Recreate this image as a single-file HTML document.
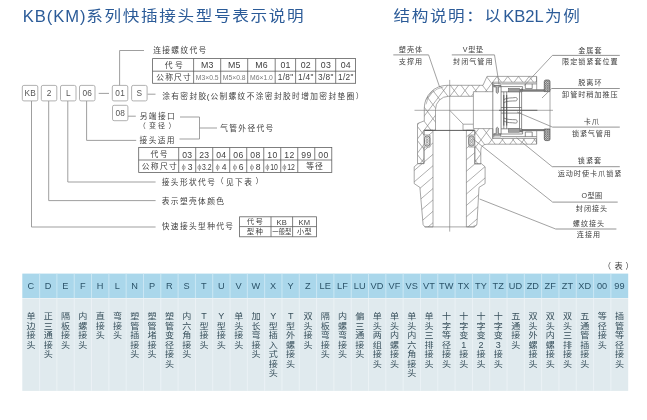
<!DOCTYPE html>
<html lang="zh-CN"><head><meta charset="utf-8"><title>KB(KM)系列快插接头型号表示说明</title>
<style>
html,body{margin:0;padding:0;background:#fff;}
body{width:647px;height:420px;overflow:hidden;}
svg{display:block;font-family:'Liberation Sans','Noto Sans CJK SC',sans-serif;will-change:transform;}
text{white-space:pre;}
</style></head><body>
<svg width="647" height="420" viewBox="0 0 647 420">
<rect x="0" y="0" width="647" height="420" fill="#ffffff"/>
<text x="22.80" y="21.80" font-size="16.6" fill="#2b5b98" letter-spacing="0.95">KB(KM)</text>
<text transform="translate(86.30 21.30) scale(1.115 1)" font-size="14.9" fill="#2b5b98" letter-spacing="1.480">系列快插接头型号表示说明</text>
<text transform="translate(393.50 21.30) scale(1.115 1)" font-size="14.9" fill="#2b5b98" letter-spacing="1.435">结构说明：以</text>
<text x="503.20" y="21.80" font-size="16.6" fill="#2b5b98">KB2L</text>
<text transform="translate(545.00 21.30) scale(1.115 1)" font-size="14.9" fill="#2b5b98" letter-spacing="1.525">为例</text>
<rect x="22.3" y="85.4" width="15.5" height="15.5" stroke="#a8a8a8" stroke-width="0.9" fill="none" rx="1.6"/>
<text x="30.15" y="96.19" font-size="8.3" fill="#555" letter-spacing="0.2" text-anchor="middle">KB</text>
<rect x="41.3" y="85.4" width="15.5" height="15.5" stroke="#a8a8a8" stroke-width="0.9" fill="none" rx="1.6"/>
<text x="49.15" y="96.19" font-size="8.3" fill="#555" letter-spacing="0.2" text-anchor="middle">2</text>
<rect x="60.5" y="85.4" width="15.5" height="15.5" stroke="#a8a8a8" stroke-width="0.9" fill="none" rx="1.6"/>
<text x="68.35" y="96.19" font-size="8.3" fill="#555" letter-spacing="0.2" text-anchor="middle">L</text>
<rect x="79.5" y="85.4" width="15.5" height="15.5" stroke="#a8a8a8" stroke-width="0.9" fill="none" rx="1.6"/>
<text x="87.35" y="96.19" font-size="8.3" fill="#555" letter-spacing="0.2" text-anchor="middle">06</text>
<rect x="112.3" y="85.4" width="15.5" height="15.5" stroke="#a8a8a8" stroke-width="0.9" fill="none" rx="1.6"/>
<text x="120.15" y="96.19" font-size="8.3" fill="#555" letter-spacing="0.2" text-anchor="middle">01</text>
<rect x="131.6" y="85.4" width="15.5" height="15.5" stroke="#a8a8a8" stroke-width="0.9" fill="none" rx="1.6"/>
<text x="139.45" y="96.19" font-size="8.3" fill="#555" letter-spacing="0.2" text-anchor="middle">S</text>
<rect x="112.5" y="105.3" width="15.4" height="15.4" stroke="#a8a8a8" stroke-width="0.9" fill="none" rx="1.6"/>
<text x="120.30" y="116.29" font-size="8.3" fill="#555" letter-spacing="0.2" text-anchor="middle">08</text>
<line x1="98.7" y1="93.4" x2="109" y2="93.4" stroke="#949494" stroke-width="0.9"/>
<line x1="147.5" y1="94.2" x2="155.5" y2="94.2" stroke="#949494" stroke-width="0.9"/>
<path d="M119.6 85.4 V50.5 H144" stroke="#949494" stroke-width="0.9" fill="none"/>
<line x1="128" y1="116.2" x2="135.8" y2="116.2" stroke="#949494" stroke-width="0.9"/>
<path d="M31.5 101 V227 H155.6" stroke="#949494" stroke-width="0.9" fill="none"/>
<path d="M48.7 101 V200.6 H155.6" stroke="#949494" stroke-width="0.9" fill="none"/>
<path d="M67.8 101 V182 H155.6" stroke="#949494" stroke-width="0.9" fill="none"/>
<path d="M86.6 101 V140.4 H136.2" stroke="#949494" stroke-width="0.9" fill="none"/>
<path d="M180 117 H199.5 V139 H179.5" stroke="#949494" stroke-width="0.9" fill="none"/>
<line x1="199.5" y1="128" x2="217" y2="128" stroke="#949494" stroke-width="0.9"/>
<text x="153.20" y="53.37" font-size="7.7" fill="#404040" letter-spacing="1.39">连接螺纹代号</text>
<text x="162.20" y="99.27" font-size="7.7" fill="#404040" letter-spacing="1.39">涂有密封胶</text>
<text x="206.80" y="99.34" font-size="7.9" fill="#404040">(</text>
<text x="210.40" y="99.27" font-size="7.7" fill="#404040" letter-spacing="1.39">公制螺纹不涂密封胶时增加密封垫圈）</text>
<text x="139.80" y="119.47" font-size="7.7" fill="#404040" letter-spacing="1.39">另端接口</text>
<text x="138.70" y="127.52" font-size="7.0" fill="#404040">（</text>
<text x="149.10" y="127.52" font-size="7.0" fill="#404040" letter-spacing="1.9">变径</text>
<text x="168.50" y="127.52" font-size="7.0" fill="#404040">）</text>
<text x="139.60" y="142.57" font-size="7.7" fill="#404040" letter-spacing="1.39">接头适用</text>
<text x="220.20" y="131.07" font-size="7.7" fill="#404040" letter-spacing="1.39">气管外径代号</text>
<text x="161.80" y="184.57" font-size="7.7" fill="#404040" letter-spacing="1.39">接头形状代号</text>
<text x="216.00" y="184.47" font-size="7.7" fill="#404040">（</text>
<text x="226.00" y="184.57" font-size="7.7" fill="#404040" letter-spacing="1.39">见下表</text>
<text x="255.40" y="184.47" font-size="7.7" fill="#404040">）</text>
<text x="161.80" y="203.77" font-size="7.7" fill="#404040" letter-spacing="1.39">表示塑壳体颜色</text>
<text x="161.80" y="229.07" font-size="7.7" fill="#404040" letter-spacing="1.39">快速接头型种代号</text>
<rect x="152.6" y="58.6" width="203.00000000000003" height="24.699999999999996" stroke="#606060" stroke-width="0.8" fill="none"/>
<line x1="152.6" y1="71.2" x2="355.6" y2="71.2" stroke="#606060" stroke-width="0.8"/>
<line x1="193.6" y1="58.6" x2="193.6" y2="83.3" stroke="#606060" stroke-width="0.8"/>
<line x1="220.7" y1="58.6" x2="220.7" y2="83.3" stroke="#606060" stroke-width="0.8"/>
<line x1="247.7" y1="58.6" x2="247.7" y2="83.3" stroke="#606060" stroke-width="0.8"/>
<line x1="275.2" y1="58.6" x2="275.2" y2="83.3" stroke="#606060" stroke-width="0.8"/>
<line x1="295.6" y1="58.6" x2="295.6" y2="83.3" stroke="#606060" stroke-width="0.8"/>
<line x1="315.7" y1="58.6" x2="315.7" y2="83.3" stroke="#606060" stroke-width="0.8"/>
<line x1="335.7" y1="58.6" x2="335.7" y2="83.3" stroke="#606060" stroke-width="0.8"/>
<text x="164.80" y="67.81" font-size="7.8" fill="#404040" letter-spacing="2.4">代号</text>
<text x="156.20" y="80.11" font-size="7.8" fill="#404040" letter-spacing="1.15">公称尺寸</text>
<text x="207.35" y="68.37" font-size="8.8" fill="#404040" letter-spacing="0.3" text-anchor="middle">M3</text>
<text transform="translate(207.15 80.21) scale(0.87 1)" font-size="7.8" fill="#7a7a7a" text-anchor="middle">M3×0.5</text>
<text x="234.40" y="68.37" font-size="8.8" fill="#404040" letter-spacing="0.3" text-anchor="middle">M5</text>
<text transform="translate(234.20 80.21) scale(0.87 1)" font-size="7.8" fill="#7a7a7a" text-anchor="middle">M5×0.8</text>
<text x="261.65" y="68.37" font-size="8.8" fill="#404040" letter-spacing="0.3" text-anchor="middle">M6</text>
<text transform="translate(261.45 80.21) scale(0.87 1)" font-size="7.8" fill="#7a7a7a" text-anchor="middle">M6×1.0</text>
<text x="285.60" y="68.37" font-size="8.8" fill="#404040" letter-spacing="0.3" text-anchor="middle">01</text>
<text x="285.60" y="80.19" font-size="8.3" fill="#404040" letter-spacing="0.3" text-anchor="middle">1/8"</text>
<text x="305.85" y="68.37" font-size="8.8" fill="#404040" letter-spacing="0.3" text-anchor="middle">02</text>
<text x="305.85" y="80.19" font-size="8.3" fill="#404040" letter-spacing="0.3" text-anchor="middle">1/4"</text>
<text x="325.90" y="68.37" font-size="8.8" fill="#404040" letter-spacing="0.3" text-anchor="middle">03</text>
<text x="325.90" y="80.19" font-size="8.3" fill="#404040" letter-spacing="0.3" text-anchor="middle">3/8"</text>
<text x="345.85" y="68.37" font-size="8.8" fill="#404040" letter-spacing="0.3" text-anchor="middle">04</text>
<text x="345.85" y="80.19" font-size="8.3" fill="#404040" letter-spacing="0.3" text-anchor="middle">1/2"</text>
<rect x="138.7" y="147.5" width="193.08999999999997" height="24.900000000000006" stroke="#606060" stroke-width="0.8" fill="none"/>
<line x1="138.7" y1="160" x2="331.78999999999996" y2="160" stroke="#606060" stroke-width="0.8"/>
<line x1="178.7" y1="147.5" x2="178.7" y2="172.4" stroke="#606060" stroke-width="0.8"/>
<line x1="195.70999999999998" y1="147.5" x2="195.70999999999998" y2="172.4" stroke="#606060" stroke-width="0.8"/>
<line x1="212.72" y1="147.5" x2="212.72" y2="172.4" stroke="#606060" stroke-width="0.8"/>
<line x1="229.73" y1="147.5" x2="229.73" y2="172.4" stroke="#606060" stroke-width="0.8"/>
<line x1="246.74" y1="147.5" x2="246.74" y2="172.4" stroke="#606060" stroke-width="0.8"/>
<line x1="263.75" y1="147.5" x2="263.75" y2="172.4" stroke="#606060" stroke-width="0.8"/>
<line x1="280.76" y1="147.5" x2="280.76" y2="172.4" stroke="#606060" stroke-width="0.8"/>
<line x1="297.77" y1="147.5" x2="297.77" y2="172.4" stroke="#606060" stroke-width="0.8"/>
<line x1="314.78" y1="147.5" x2="314.78" y2="160" stroke="#606060" stroke-width="0.8"/>
<text x="150.60" y="156.81" font-size="7.8" fill="#404040" letter-spacing="1.3">代号</text>
<text x="141.80" y="169.11" font-size="7.8" fill="#404040" letter-spacing="1.25">公称尺寸</text>
<text x="187.35" y="157.50" font-size="8.6" fill="#404040" letter-spacing="0.3" text-anchor="middle">03</text>
<text x="204.36" y="157.50" font-size="8.6" fill="#404040" letter-spacing="0.3" text-anchor="middle">23</text>
<text x="221.38" y="157.50" font-size="8.6" fill="#404040" letter-spacing="0.3" text-anchor="middle">04</text>
<text x="238.39" y="157.50" font-size="8.6" fill="#404040" letter-spacing="0.3" text-anchor="middle">06</text>
<text x="255.40" y="157.50" font-size="8.6" fill="#404040" letter-spacing="0.3" text-anchor="middle">08</text>
<text x="272.40" y="157.50" font-size="8.6" fill="#404040" letter-spacing="0.3" text-anchor="middle">10</text>
<text x="289.41" y="157.50" font-size="8.6" fill="#404040" letter-spacing="0.3" text-anchor="middle">12</text>
<text x="306.42" y="157.50" font-size="8.6" fill="#404040" letter-spacing="0.3" text-anchor="middle">99</text>
<text x="323.43" y="157.50" font-size="8.6" fill="#404040" letter-spacing="0.3" text-anchor="middle">00</text>
<text x="181.60" y="169.24" font-size="7.6" fill="#808080">ϕ</text>
<text x="187.70" y="169.60" font-size="8.6" fill="#404040">3</text>
<text x="197.31" y="169.24" font-size="7.6" fill="#808080">ϕ</text>
<text transform="translate(202.11 169.60) scale(0.8 1)" font-size="8.6" fill="#404040" text-anchor="start">3.2</text>
<text x="215.62" y="169.24" font-size="7.6" fill="#808080">ϕ</text>
<text x="221.72" y="169.60" font-size="8.6" fill="#404040">4</text>
<text x="232.63" y="169.24" font-size="7.6" fill="#808080">ϕ</text>
<text x="238.73" y="169.60" font-size="8.6" fill="#404040">6</text>
<text x="249.64" y="169.24" font-size="7.6" fill="#808080">ϕ</text>
<text x="255.74" y="169.60" font-size="8.6" fill="#404040">8</text>
<text x="265.35" y="169.24" font-size="7.6" fill="#808080">ϕ</text>
<text transform="translate(270.15 169.60) scale(0.8 1)" font-size="8.6" fill="#404040" text-anchor="start">10</text>
<text x="282.36" y="169.24" font-size="7.6" fill="#808080">ϕ</text>
<text transform="translate(287.16 169.60) scale(0.8 1)" font-size="8.6" fill="#404040" text-anchor="start">12</text>
<text x="306.30" y="169.11" font-size="7.8" fill="#404040" letter-spacing="1.0">等径</text>
<rect x="239.6" y="216.8" width="76.79999999999998" height="20.0" stroke="#606060" stroke-width="0.8" fill="none"/>
<line x1="239.6" y1="226.6" x2="316.4" y2="226.6" stroke="#606060" stroke-width="0.8"/>
<line x1="271" y1="216.8" x2="271" y2="236.8" stroke="#606060" stroke-width="0.8"/>
<line x1="292.6" y1="216.8" x2="292.6" y2="236.8" stroke="#606060" stroke-width="0.8"/>
<text x="246.80" y="224.36" font-size="7.4" fill="#404040" letter-spacing="1.2">代号</text>
<text x="246.80" y="234.46" font-size="7.4" fill="#404040" letter-spacing="1.2">型种</text>
<text x="281.80" y="224.54" font-size="7.6" fill="#404040" letter-spacing="0.3" text-anchor="middle">KB</text>
<text x="304.50" y="224.54" font-size="7.6" fill="#404040" letter-spacing="0.3" text-anchor="middle">KM</text>
<text transform="translate(281.80 234.39) scale(0.88 1)" font-size="7.2" fill="#404040" text-anchor="middle">一般型</text>
<text x="304.50" y="234.39" font-size="7.2" fill="#404040" letter-spacing="0.2" text-anchor="middle">小型</text>
<line x1="414.5" y1="110.3" x2="553" y2="110.3" stroke="#8a8a8a" stroke-width="0.7"/>
<line x1="449.7" y1="79.9" x2="449.7" y2="231.6" stroke="#8a8a8a" stroke-width="0.7"/>
<defs><clipPath id="cpl"><path d="M536.5 76.4 L487 76.4 L483 85.3 L447 85.3 A22.7 22.7 0 0 0 424.3 108 L424.3 120.8 L417.5 123.6 L417.5 163.6 L424 163.6 L424 130.2 L435.5 130.2 L435.5 109.4 A13.1 13.1 0 0 1 448.6 96.3 L473.4 96.3 L473.4 91.7 L492.8 91.7 L492.8 82.2 L536.5 82.2 Z M536.5 144.2 L487 144.2 Q481 144.4 480.8 150.2 L480.8 164 L474.8 164 L474.8 130.2 L473.4 130.2 L473.4 128.6 L492.8 128.6 L492.8 138.5 L536.5 138.5 Z"/></clipPath>
<clipPath id="cbr"><path d="M414.2 166.8 L418 163.6 L424 163.6 L424 147 L430 147 L430 135 L424 135 L424 130.2 L433 130.2 L433 226.9 L424.8 226.9 L423.1 224.6 L419.9 187.4 L414.2 183.6 Z M485.1 166.8 L481.3 163.6 L474.8 163.6 L474.8 147 L468.8 147 L468.8 135 L474.8 135 L474.8 130.2 L466.4 130.2 L466.4 226.9 L474.2 226.9 L476.9 224.6 L479 187.4 L485.1 183.6 Z"/></clipPath></defs>
<path d="M-4.0 60 L-148.4 250 M-50.4 60 L94.0 250 M6.7 60 L-137.7 250 M-39.7 60 L104.7 250 M17.4 60 L-127.0 250 M-29.0 60 L115.4 250 M28.1 60 L-116.3 250 M-18.3 60 L126.1 250 M38.8 60 L-105.6 250 M-7.6 60 L136.8 250 M49.5 60 L-94.9 250 M3.1 60 L147.5 250 M60.2 60 L-84.2 250 M13.8 60 L158.2 250 M70.9 60 L-73.5 250 M24.5 60 L168.9 250 M81.6 60 L-62.8 250 M35.2 60 L179.6 250 M92.3 60 L-52.1 250 M45.9 60 L190.3 250 M103.0 60 L-41.4 250 M56.6 60 L201.0 250 M113.7 60 L-30.7 250 M67.3 60 L211.7 250 M124.4 60 L-20.0 250 M78.0 60 L222.4 250 M135.1 60 L-9.3 250 M88.7 60 L233.1 250 M145.8 60 L1.4 250 M99.4 60 L243.8 250 M156.5 60 L12.1 250 M110.1 60 L254.5 250 M167.2 60 L22.8 250 M120.8 60 L265.2 250 M177.9 60 L33.5 250 M131.5 60 L275.9 250 M188.6 60 L44.2 250 M142.2 60 L286.6 250 M199.3 60 L54.9 250 M152.9 60 L297.3 250 M210.0 60 L65.6 250 M163.6 60 L308.0 250 M220.7 60 L76.3 250 M174.3 60 L318.7 250 M231.4 60 L87.0 250 M185.0 60 L329.4 250 M242.1 60 L97.7 250 M195.7 60 L340.1 250 M252.8 60 L108.4 250 M206.4 60 L350.8 250 M263.5 60 L119.1 250 M217.1 60 L361.5 250 M274.2 60 L129.8 250 M227.8 60 L372.2 250 M284.9 60 L140.5 250 M238.5 60 L382.9 250 M295.6 60 L151.2 250 M249.2 60 L393.6 250 M306.3 60 L161.9 250 M259.9 60 L404.3 250 M317.0 60 L172.6 250 M270.6 60 L415.0 250 M327.7 60 L183.3 250 M281.3 60 L425.7 250 M338.4 60 L194.0 250 M292.0 60 L436.4 250 M349.1 60 L204.7 250 M302.7 60 L447.1 250 M359.8 60 L215.4 250 M313.4 60 L457.8 250 M370.5 60 L226.1 250 M324.1 60 L468.5 250 M381.2 60 L236.8 250 M334.8 60 L479.2 250 M391.9 60 L247.5 250 M345.5 60 L489.9 250 M402.6 60 L258.2 250 M356.2 60 L500.6 250 M413.3 60 L268.9 250 M366.9 60 L511.3 250 M424.0 60 L279.6 250 M377.6 60 L522.0 250 M434.7 60 L290.3 250 M388.3 60 L532.7 250 M445.4 60 L301.0 250 M399.0 60 L543.4 250 M456.1 60 L311.7 250 M409.7 60 L554.1 250 M466.8 60 L322.4 250 M420.4 60 L564.8 250 M477.5 60 L333.1 250 M431.1 60 L575.5 250 M488.2 60 L343.8 250 M441.8 60 L586.2 250 M498.9 60 L354.5 250 M452.5 60 L596.9 250 M509.6 60 L365.2 250 M463.2 60 L607.6 250 M520.3 60 L375.9 250 M473.9 60 L618.3 250 M531.0 60 L386.6 250 M484.6 60 L629.0 250 M541.7 60 L397.3 250 M495.3 60 L639.7 250 M552.4 60 L408.0 250 M506.0 60 L650.4 250 M563.1 60 L418.7 250 M516.7 60 L661.1 250 M573.8 60 L429.4 250 M527.4 60 L671.8 250 M584.5 60 L440.1 250 M538.1 60 L682.5 250 M595.2 60 L450.8 250 M548.8 60 L693.2 250 M605.9 60 L461.5 250 M559.5 60 L703.9 250 M616.6 60 L472.2 250 M570.2 60 L714.6 250 M627.3 60 L482.9 250 M580.9 60 L725.3 250 M638.0 60 L493.6 250 M591.6 60 L736.0 250 M648.7 60 L504.3 250 M602.3 60 L746.7 250 M659.4 60 L515.0 250 M613.0 60 L757.4 250 M670.1 60 L525.7 250 M623.7 60 L768.1 250 M680.8 60 L536.4 250 M634.4 60 L778.8 250 M691.5 60 L547.1 250 M645.1 60 L789.5 250 M702.2 60 L557.8 250 M655.8 60 L800.2 250 M712.9 60 L568.5 250 M666.5 60 L810.9 250 M723.6 60 L579.2 250 M677.2 60 L821.6 250 M734.3 60 L589.9 250 M687.9 60 L832.3 250 M745.0 60 L600.6 250 M698.6 60 L843.0 250 M755.7 60 L611.3 250 M709.3 60 L853.7 250 M766.4 60 L622.0 250 M720.0 60 L864.4 250 M777.1 60 L632.7 250 M730.7 60 L875.1 250 M787.8 60 L643.4 250 M741.4 60 L885.8 250 M798.5 60 L654.1 250 M752.1 60 L896.5 250 M809.2 60 L664.8 250 M762.8 60 L907.2 250 M819.9 60 L675.5 250 M773.5 60 L917.9 250 M830.6 60 L686.2 250 M784.2 60 L928.6 250 M841.3 60 L696.9 250 M794.9 60 L939.3 250 M852.0 60 L707.6 250 M805.6 60 L950.0 250 M862.7 60 L718.3 250 M816.3 60 L960.7 250 M873.4 60 L729.0 250 M827.0 60 L971.4 250 M884.1 60 L739.7 250 M837.7 60 L982.1 250 M894.8 60 L750.4 250 M848.4 60 L992.8 250 M905.5 60 L761.1 250 M859.1 60 L1003.5 250 M916.2 60 L771.8 250 M869.8 60 L1014.2 250 M926.9 60 L782.5 250 M880.5 60 L1024.9 250 M937.6 60 L793.2 250 M891.2 60 L1035.6 250 M948.3 60 L803.9 250 M901.9 60 L1046.3 250" stroke="#787878" stroke-width="0.6" fill="none" clip-path="url(#cpl)"/>
<path d="M400 102.9 L500 16.9 M400 114.3 L500 28.3 M400 125.7 L500 39.7 M400 137.1 L500 51.1 M400 148.5 L500 62.5 M400 159.9 L500 73.9 M400 171.3 L500 85.3 M400 182.7 L500 96.7 M400 194.1 L500 108.1 M400 205.5 L500 119.5 M400 216.9 L500 130.9 M400 228.3 L500 142.3 M400 239.7 L500 153.7 M400 251.1 L500 165.1 M400 262.5 L500 176.5 M400 273.9 L500 187.9 M400 285.3 L500 199.3 M400 296.7 L500 210.7 M400 308.1 L500 222.1 M400 319.5 L500 233.5" stroke="#787878" stroke-width="0.6" fill="none" clip-path="url(#cbr)"/>
<path d="M536.5 76.4 L487 76.4 L483 85.3 L447 85.3 A22.7 22.7 0 0 0 424.3 108 L424.3 120.8 L417.5 123.6 L417.5 163.6 L424 163.6 L424 130.2 L435.5 130.2 L435.5 109.4 A13.1 13.1 0 0 1 448.6 96.3 L473.4 96.3 L473.4 91.7 L492.8 91.7 L492.8 82.2 L536.5 82.2 Z" stroke="#787878" stroke-width="0.65" fill="none"/>
<path d="M536.5 144.2 L487 144.2 Q481 144.4 480.8 150.2 L480.8 164 L474.8 164 L474.8 130.2 L463 130.2 L463 124.2 L473.4 124.2 L473.4 128.6 L492.8 128.6 L492.8 138.5 L536.5 138.5 Z" stroke="#787878" stroke-width="0.65" fill="none"/>
<path d="M414.2 166.8 L418 163.6 L424 163.6 L424 147 L430 147 L430 135 L424 135 L424 130.2 L433 130.2 L433 226.9 L424.8 226.9 L423.1 224.6 L419.9 187.4 L414.2 183.6 Z" stroke="#787878" stroke-width="0.65" fill="none"/>
<path d="M485.1 166.8 L481.3 163.6 L474.8 163.6 L474.8 147 L468.8 147 L468.8 135 L474.8 135 L474.8 130.2 L466.4 130.2 L466.4 226.9 L474.2 226.9 L476.9 224.6 L479 187.4 L485.1 183.6 Z" stroke="#787878" stroke-width="0.65" fill="none"/>
<line x1="424.5" y1="130.4" x2="474.2" y2="130.4" stroke="#4a4a4a" stroke-width="0.9"/>
<line x1="424.8" y1="226.9" x2="474.2" y2="226.9" stroke="#787878" stroke-width="0.65"/>
<path d="M476.9 224.6 L474.2 226.9 M474.2 224.8 V226.9" stroke="#787878" stroke-width="0.5" fill="none"/>
<path d="M449.7 110.3 L463 124" stroke="#787878" stroke-width="0.65" fill="none"/>
<path d="M426.0 104.3 A21.3 21.3 0 0 1 443.3 87.0" stroke="#787878" stroke-width="0.5" fill="none"/>
<path d="M473.4 96.3 V124.2" stroke="#787878" stroke-width="0.65" fill="none"/>
<rect x="424.5" y="136" width="5.3" height="10" rx="2.4" fill="#ededed" stroke="#4a4a4a" stroke-width="0.7"/>
<circle cx="427.15" cy="138.4" r="1.15" fill="none" stroke="#666" stroke-width="0.45"/>
<circle cx="427.15" cy="141" r="1.15" fill="none" stroke="#666" stroke-width="0.45"/>
<circle cx="427.15" cy="143.6" r="1.15" fill="none" stroke="#666" stroke-width="0.45"/>
<rect x="468.9" y="136" width="5.3" height="10" rx="2.4" fill="#ededed" stroke="#4a4a4a" stroke-width="0.7"/>
<circle cx="471.54999999999995" cy="138.4" r="1.15" fill="none" stroke="#666" stroke-width="0.45"/>
<circle cx="471.54999999999995" cy="141" r="1.15" fill="none" stroke="#666" stroke-width="0.45"/>
<circle cx="471.54999999999995" cy="143.6" r="1.15" fill="none" stroke="#666" stroke-width="0.45"/>
<path d="M536.7 76.4 V89.8 M536.7 130.8 V144.2" stroke="#787878" stroke-width="0.65" fill="none"/>
<path d="M492.8 82.2 V138.4 M501.1 86.6 V134 M503.8 91.8 V128.8 M506.7 91.8 V128.8 M519.5 91.8 V128.8 M521.6 88.4 V132.2" stroke="#5e5e5e" stroke-width="0.7" fill="none"/>
<defs><pattern id="dots" width="2.2" height="2.2" patternUnits="userSpaceOnUse"><rect width="2.2" height="2.2" fill="#cacaca"/><path d="M0 0 L2.2 2.2 M2.2 0 L0 2.2" stroke="#4c4c4c" stroke-width="0.45"/></pattern></defs>
<path d="M501.4 83.9 H536.7 M501.1 86.6 H522.6 M525.3 83.9 V88.6 H532.2 V83.9 M522.6 86.6 V89.7" stroke="#5e5e5e" stroke-width="0.7" fill="none"/>
<path d="M501.1 91.8 H521.6 M501.1 107.5 H521.6" stroke="#5e5e5e" stroke-width="0.7" fill="none"/>
<rect x="508.5" y="88.4" width="11" height="3.4" fill="#c2c2c2" stroke="#555" stroke-width="0.55"/>
<rect x="519.5" y="89.0" width="3" height="2.8" fill="#777"/>
<path d="M509 89.5 H519 M509 90.7 H519" stroke="#555" stroke-width="0.4" fill="none"/>
<rect x="522.5" y="89.7" width="22" height="1.6" fill="#7c7c7c" stroke="#4a4a4a" stroke-width="0.4"/>
<path d="M493.8 83.6 H500.8 V85.6 H493.8 Z" fill="none" stroke="#555" stroke-width="0.5"/>
<path d="M493.8 85.6 H500.8 V86.9 H498.4 V92.4 L497.3 93.4 L496.2 92.4 V86.9 H493.8 Z" fill="#c4c4c4" stroke="#444" stroke-width="0.6"/>
<path d="M503.8 99.6 C507 97.4 512 98.2 515.6 97.5 C517.8 97.3 517.8 100.9 515.6 100.9 C511 101.0 507 100.9 503.8 102.6" stroke="#5a5a5a" stroke-width="0.7" fill="none"/>
<path d="M544.3 91.6 V81.6 Q544.3 80.0 545.9 80.0 H548.4 Q550 80.0 550 81.6 V91.6 Z" fill="url(#dots)" stroke="#4a4a4a" stroke-width="0.7"/>
<path d="M501.4 136.7 H536.7 M501.1 134.0 H522.6 M525.3 136.7 V132.0 H532.2 V136.7 M522.6 134.0 V130.9" stroke="#5e5e5e" stroke-width="0.7" fill="none"/>
<path d="M501.1 128.8 H521.6 M501.1 113.1 H521.6" stroke="#5e5e5e" stroke-width="0.7" fill="none"/>
<rect x="508.5" y="128.8" width="11" height="3.4" fill="#c2c2c2" stroke="#555" stroke-width="0.55"/>
<rect x="519.5" y="129.4" width="3" height="2.8" fill="#777"/>
<path d="M509 131.1 H519 M509 129.9 H519" stroke="#555" stroke-width="0.4" fill="none"/>
<rect x="522.5" y="129.3" width="22" height="1.6" fill="#7c7c7c" stroke="#4a4a4a" stroke-width="0.4"/>
<path d="M493.8 137.0 H500.8 V135.0 H493.8 Z" fill="none" stroke="#555" stroke-width="0.5"/>
<path d="M493.8 135.0 H500.8 V133.7 H498.4 V128.2 L497.3 127.2 L496.2 128.2 V133.7 H493.8 Z" fill="#c4c4c4" stroke="#444" stroke-width="0.6"/>
<path d="M503.8 121.0 C507 123.2 512 122.4 515.6 123.1 C517.8 123.3 517.8 119.7 515.6 119.7 C511 119.6 507 119.7 503.8 118.0" stroke="#5a5a5a" stroke-width="0.7" fill="none"/>
<path d="M544.3 129.0 V139.0 Q544.3 140.6 545.9 140.6 H548.4 Q550 140.6 550 139.0 V129.0 Z" fill="url(#dots)" stroke="#4a4a4a" stroke-width="0.7"/>
<line x1="550" y1="91.6" x2="550" y2="129" stroke="#787878" stroke-width="0.65"/>
<line x1="499" y1="110.3" x2="537.4" y2="110.3" stroke="#5a5a5a" stroke-width="0.9"/>
<path d="M503.8 95 V125.6 M506.7 95 V125.6" stroke="#505050" stroke-width="0.9" fill="none"/>
<text x="411.00" y="51.96" font-size="7.1" fill="#404040" letter-spacing="1.0" text-anchor="middle">塑壳体</text>
<line x1="393.3" y1="54.9" x2="428.6" y2="54.9" stroke="#7a7a7a" stroke-width="0.8"/>
<text x="411.00" y="63.86" font-size="7.1" fill="#404040" letter-spacing="1.0" text-anchor="middle">支撑用</text>
<path d="M428.6 54.9 L439.7 87.3" stroke="#7a7a7a" stroke-width="0.7" fill="none"/>
<text x="473.30" y="51.96" font-size="7.1" fill="#404040" letter-spacing="0.8" text-anchor="middle">V型垫</text>
<line x1="451.8" y1="54.9" x2="494.5" y2="54.9" stroke="#7a7a7a" stroke-width="0.8"/>
<text x="473.30" y="63.86" font-size="7.1" fill="#404040" letter-spacing="1.0" text-anchor="middle">封闭气管用</text>
<path d="M494.5 54.9 L499.1 84.5" stroke="#7a7a7a" stroke-width="0.7" fill="none"/>
<text x="590.40" y="52.56" font-size="7.1" fill="#404040" letter-spacing="1.0" text-anchor="middle">金属套</text>
<line x1="552.4" y1="55.4" x2="619.8" y2="55.4" stroke="#7a7a7a" stroke-width="0.8"/>
<text x="590.40" y="63.86" font-size="7.1" fill="#404040" letter-spacing="1.0" text-anchor="middle">限定锁紧套位置</text>
<path d="M552.4 55.4 L524.2 85.6" stroke="#7a7a7a" stroke-width="0.7" fill="none"/>
<text x="590.40" y="85.46" font-size="7.1" fill="#404040" letter-spacing="1.0" text-anchor="middle">脱离环</text>
<line x1="551.7" y1="88.5" x2="619.8" y2="88.5" stroke="#7a7a7a" stroke-width="0.8"/>
<text x="590.40" y="97.26" font-size="7.1" fill="#404040" letter-spacing="1.0" text-anchor="middle">卸管时稍加推压</text>
<path d="M551.7 88.5 L542 98" stroke="#7a7a7a" stroke-width="0.7" fill="none"/>
<text x="591.80" y="123.96" font-size="7.1" fill="#404040" letter-spacing="0.9" text-anchor="middle">卡爪</text>
<line x1="552.5" y1="127.1" x2="619.8" y2="127.1" stroke="#7a7a7a" stroke-width="0.8"/>
<text x="591.80" y="136.16" font-size="7.1" fill="#404040" letter-spacing="0.8" text-anchor="middle">锁紧气管用</text>
<path d="M552.5 127.1 L517 112" stroke="#7a7a7a" stroke-width="0.7" fill="none"/>
<text x="590.00" y="162.96" font-size="7.1" fill="#404040" letter-spacing="1.0" text-anchor="middle">锁紧套</text>
<line x1="552.2" y1="166.7" x2="619.8" y2="166.7" stroke="#7a7a7a" stroke-width="0.8"/>
<text x="590.00" y="175.76" font-size="7.1" fill="#404040" letter-spacing="1.0" text-anchor="middle">运动时使卡爪锁紧</text>
<path d="M552.2 166.7 L516.6 137.9" stroke="#7a7a7a" stroke-width="0.7" fill="none"/>
<text x="592.00" y="198.36" font-size="7.1" fill="#404040" letter-spacing="0.5" text-anchor="middle">O型圈</text>
<line x1="552.6" y1="202.1" x2="617.7" y2="202.1" stroke="#7a7a7a" stroke-width="0.8"/>
<text x="592.00" y="211.16" font-size="7.1" fill="#404040" letter-spacing="1.0" text-anchor="middle">封闭接头</text>
<path d="M552.6 202.1 L472.7 138.7" stroke="#7a7a7a" stroke-width="0.7" fill="none"/>
<text x="589.00" y="226.36" font-size="7.1" fill="#404040" letter-spacing="1.0" text-anchor="middle">螺纹接头</text>
<line x1="555.7" y1="229.0" x2="616.4" y2="229.0" stroke="#7a7a7a" stroke-width="0.8"/>
<text x="589.00" y="236.86" font-size="7.1" fill="#404040" letter-spacing="1.0" text-anchor="middle">连接用</text>
<path d="M555.7 229 L479.6 199" stroke="#7a7a7a" stroke-width="0.7" fill="none"/>
<rect x="22.3" y="273.6" width="605.90" height="24.5" fill="#aad7eb"/>
<rect x="22.3" y="298.5" width="605.90" height="92.4" fill="#e0eaee"/>
<line x1="39.61" y1="273.6" x2="39.61" y2="298" stroke="#d3ebf6" stroke-width="0.8"/>
<line x1="39.61" y1="298.6" x2="39.61" y2="390.8" stroke="#eef4f7" stroke-width="0.8"/>
<line x1="56.92" y1="273.6" x2="56.92" y2="298" stroke="#d3ebf6" stroke-width="0.8"/>
<line x1="56.92" y1="298.6" x2="56.92" y2="390.8" stroke="#eef4f7" stroke-width="0.8"/>
<line x1="74.23" y1="273.6" x2="74.23" y2="298" stroke="#d3ebf6" stroke-width="0.8"/>
<line x1="74.23" y1="298.6" x2="74.23" y2="390.8" stroke="#eef4f7" stroke-width="0.8"/>
<line x1="91.55" y1="273.6" x2="91.55" y2="298" stroke="#d3ebf6" stroke-width="0.8"/>
<line x1="91.55" y1="298.6" x2="91.55" y2="390.8" stroke="#eef4f7" stroke-width="0.8"/>
<line x1="108.86" y1="273.6" x2="108.86" y2="298" stroke="#d3ebf6" stroke-width="0.8"/>
<line x1="108.86" y1="298.6" x2="108.86" y2="390.8" stroke="#eef4f7" stroke-width="0.8"/>
<line x1="126.17" y1="273.6" x2="126.17" y2="298" stroke="#d3ebf6" stroke-width="0.8"/>
<line x1="126.17" y1="298.6" x2="126.17" y2="390.8" stroke="#eef4f7" stroke-width="0.8"/>
<line x1="143.48" y1="273.6" x2="143.48" y2="298" stroke="#d3ebf6" stroke-width="0.8"/>
<line x1="143.48" y1="298.6" x2="143.48" y2="390.8" stroke="#eef4f7" stroke-width="0.8"/>
<line x1="160.79" y1="273.6" x2="160.79" y2="298" stroke="#d3ebf6" stroke-width="0.8"/>
<line x1="160.79" y1="298.6" x2="160.79" y2="390.8" stroke="#eef4f7" stroke-width="0.8"/>
<line x1="178.10" y1="273.6" x2="178.10" y2="298" stroke="#d3ebf6" stroke-width="0.8"/>
<line x1="178.10" y1="298.6" x2="178.10" y2="390.8" stroke="#eef4f7" stroke-width="0.8"/>
<line x1="195.41" y1="273.6" x2="195.41" y2="298" stroke="#d3ebf6" stroke-width="0.8"/>
<line x1="195.41" y1="298.6" x2="195.41" y2="390.8" stroke="#eef4f7" stroke-width="0.8"/>
<line x1="212.73" y1="273.6" x2="212.73" y2="298" stroke="#d3ebf6" stroke-width="0.8"/>
<line x1="212.73" y1="298.6" x2="212.73" y2="390.8" stroke="#eef4f7" stroke-width="0.8"/>
<line x1="230.04" y1="273.6" x2="230.04" y2="298" stroke="#d3ebf6" stroke-width="0.8"/>
<line x1="230.04" y1="298.6" x2="230.04" y2="390.8" stroke="#eef4f7" stroke-width="0.8"/>
<line x1="247.35" y1="273.6" x2="247.35" y2="298" stroke="#d3ebf6" stroke-width="0.8"/>
<line x1="247.35" y1="298.6" x2="247.35" y2="390.8" stroke="#eef4f7" stroke-width="0.8"/>
<line x1="264.66" y1="273.6" x2="264.66" y2="298" stroke="#d3ebf6" stroke-width="0.8"/>
<line x1="264.66" y1="298.6" x2="264.66" y2="390.8" stroke="#eef4f7" stroke-width="0.8"/>
<line x1="281.97" y1="273.6" x2="281.97" y2="298" stroke="#d3ebf6" stroke-width="0.8"/>
<line x1="281.97" y1="298.6" x2="281.97" y2="390.8" stroke="#eef4f7" stroke-width="0.8"/>
<line x1="299.28" y1="273.6" x2="299.28" y2="298" stroke="#d3ebf6" stroke-width="0.8"/>
<line x1="299.28" y1="298.6" x2="299.28" y2="390.8" stroke="#eef4f7" stroke-width="0.8"/>
<line x1="316.59" y1="273.6" x2="316.59" y2="298" stroke="#d3ebf6" stroke-width="0.8"/>
<line x1="316.59" y1="298.6" x2="316.59" y2="390.8" stroke="#eef4f7" stroke-width="0.8"/>
<line x1="333.91" y1="273.6" x2="333.91" y2="298" stroke="#d3ebf6" stroke-width="0.8"/>
<line x1="333.91" y1="298.6" x2="333.91" y2="390.8" stroke="#eef4f7" stroke-width="0.8"/>
<line x1="351.22" y1="273.6" x2="351.22" y2="298" stroke="#d3ebf6" stroke-width="0.8"/>
<line x1="351.22" y1="298.6" x2="351.22" y2="390.8" stroke="#eef4f7" stroke-width="0.8"/>
<line x1="368.53" y1="273.6" x2="368.53" y2="298" stroke="#d3ebf6" stroke-width="0.8"/>
<line x1="368.53" y1="298.6" x2="368.53" y2="390.8" stroke="#eef4f7" stroke-width="0.8"/>
<line x1="385.84" y1="273.6" x2="385.84" y2="298" stroke="#d3ebf6" stroke-width="0.8"/>
<line x1="385.84" y1="298.6" x2="385.84" y2="390.8" stroke="#eef4f7" stroke-width="0.8"/>
<line x1="403.15" y1="273.6" x2="403.15" y2="298" stroke="#d3ebf6" stroke-width="0.8"/>
<line x1="403.15" y1="298.6" x2="403.15" y2="390.8" stroke="#eef4f7" stroke-width="0.8"/>
<line x1="420.46" y1="273.6" x2="420.46" y2="298" stroke="#d3ebf6" stroke-width="0.8"/>
<line x1="420.46" y1="298.6" x2="420.46" y2="390.8" stroke="#eef4f7" stroke-width="0.8"/>
<line x1="437.77" y1="273.6" x2="437.77" y2="298" stroke="#d3ebf6" stroke-width="0.8"/>
<line x1="437.77" y1="298.6" x2="437.77" y2="390.8" stroke="#eef4f7" stroke-width="0.8"/>
<line x1="455.09" y1="273.6" x2="455.09" y2="298" stroke="#d3ebf6" stroke-width="0.8"/>
<line x1="455.09" y1="298.6" x2="455.09" y2="390.8" stroke="#eef4f7" stroke-width="0.8"/>
<line x1="472.40" y1="273.6" x2="472.40" y2="298" stroke="#d3ebf6" stroke-width="0.8"/>
<line x1="472.40" y1="298.6" x2="472.40" y2="390.8" stroke="#eef4f7" stroke-width="0.8"/>
<line x1="489.71" y1="273.6" x2="489.71" y2="298" stroke="#d3ebf6" stroke-width="0.8"/>
<line x1="489.71" y1="298.6" x2="489.71" y2="390.8" stroke="#eef4f7" stroke-width="0.8"/>
<line x1="507.02" y1="273.6" x2="507.02" y2="298" stroke="#d3ebf6" stroke-width="0.8"/>
<line x1="507.02" y1="298.6" x2="507.02" y2="390.8" stroke="#eef4f7" stroke-width="0.8"/>
<line x1="524.33" y1="273.6" x2="524.33" y2="298" stroke="#d3ebf6" stroke-width="0.8"/>
<line x1="524.33" y1="298.6" x2="524.33" y2="390.8" stroke="#eef4f7" stroke-width="0.8"/>
<line x1="541.64" y1="273.6" x2="541.64" y2="298" stroke="#d3ebf6" stroke-width="0.8"/>
<line x1="541.64" y1="298.6" x2="541.64" y2="390.8" stroke="#eef4f7" stroke-width="0.8"/>
<line x1="558.95" y1="273.6" x2="558.95" y2="298" stroke="#d3ebf6" stroke-width="0.8"/>
<line x1="558.95" y1="298.6" x2="558.95" y2="390.8" stroke="#eef4f7" stroke-width="0.8"/>
<line x1="576.27" y1="273.6" x2="576.27" y2="298" stroke="#d3ebf6" stroke-width="0.8"/>
<line x1="576.27" y1="298.6" x2="576.27" y2="390.8" stroke="#eef4f7" stroke-width="0.8"/>
<line x1="593.58" y1="273.6" x2="593.58" y2="298" stroke="#d3ebf6" stroke-width="0.8"/>
<line x1="593.58" y1="298.6" x2="593.58" y2="390.8" stroke="#eef4f7" stroke-width="0.8"/>
<line x1="610.89" y1="273.6" x2="610.89" y2="298" stroke="#d3ebf6" stroke-width="0.8"/>
<line x1="610.89" y1="298.6" x2="610.89" y2="390.8" stroke="#eef4f7" stroke-width="0.8"/>
<text x="30.86" y="289.06" font-size="9.2" fill="#2b5369" letter-spacing="0.1" text-anchor="middle">C</text>
<text transform="translate(30.96 319.16) scale(1.07 1)" font-size="8.5" fill="#364e5a" text-anchor="middle">单</text>
<text transform="translate(30.96 328.71) scale(1.07 1)" font-size="8.5" fill="#364e5a" text-anchor="middle">边</text>
<text transform="translate(30.96 338.26) scale(1.07 1)" font-size="8.5" fill="#364e5a" text-anchor="middle">接</text>
<text transform="translate(30.96 347.81) scale(1.07 1)" font-size="8.5" fill="#364e5a" text-anchor="middle">头</text>
<text x="48.17" y="289.06" font-size="9.2" fill="#2b5369" letter-spacing="0.1" text-anchor="middle">D</text>
<text transform="translate(48.27 319.16) scale(1.07 1)" font-size="8.5" fill="#364e5a" text-anchor="middle">正</text>
<text transform="translate(48.27 328.71) scale(1.07 1)" font-size="8.5" fill="#364e5a" text-anchor="middle">三</text>
<text transform="translate(48.27 338.26) scale(1.07 1)" font-size="8.5" fill="#364e5a" text-anchor="middle">通</text>
<text transform="translate(48.27 347.81) scale(1.07 1)" font-size="8.5" fill="#364e5a" text-anchor="middle">接</text>
<text transform="translate(48.27 357.36) scale(1.07 1)" font-size="8.5" fill="#364e5a" text-anchor="middle">头</text>
<text x="65.48" y="289.06" font-size="9.2" fill="#2b5369" letter-spacing="0.1" text-anchor="middle">E</text>
<text transform="translate(65.58 319.16) scale(1.07 1)" font-size="8.5" fill="#364e5a" text-anchor="middle">隔</text>
<text transform="translate(65.58 328.71) scale(1.07 1)" font-size="8.5" fill="#364e5a" text-anchor="middle">板</text>
<text transform="translate(65.58 338.26) scale(1.07 1)" font-size="8.5" fill="#364e5a" text-anchor="middle">接</text>
<text transform="translate(65.58 347.81) scale(1.07 1)" font-size="8.5" fill="#364e5a" text-anchor="middle">头</text>
<text x="82.79" y="289.06" font-size="9.2" fill="#2b5369" letter-spacing="0.1" text-anchor="middle">F</text>
<text transform="translate(82.89 319.16) scale(1.07 1)" font-size="8.5" fill="#364e5a" text-anchor="middle">内</text>
<text transform="translate(82.89 328.71) scale(1.07 1)" font-size="8.5" fill="#364e5a" text-anchor="middle">螺</text>
<text transform="translate(82.89 338.26) scale(1.07 1)" font-size="8.5" fill="#364e5a" text-anchor="middle">接</text>
<text transform="translate(82.89 347.81) scale(1.07 1)" font-size="8.5" fill="#364e5a" text-anchor="middle">头</text>
<text x="100.10" y="289.06" font-size="9.2" fill="#2b5369" letter-spacing="0.1" text-anchor="middle">H</text>
<text transform="translate(100.20 319.16) scale(1.07 1)" font-size="8.5" fill="#364e5a" text-anchor="middle">直</text>
<text transform="translate(100.20 328.71) scale(1.07 1)" font-size="8.5" fill="#364e5a" text-anchor="middle">接</text>
<text transform="translate(100.20 338.26) scale(1.07 1)" font-size="8.5" fill="#364e5a" text-anchor="middle">头</text>
<text x="117.41" y="289.06" font-size="9.2" fill="#2b5369" letter-spacing="0.1" text-anchor="middle">L</text>
<text transform="translate(117.51 319.16) scale(1.07 1)" font-size="8.5" fill="#364e5a" text-anchor="middle">弯</text>
<text transform="translate(117.51 328.71) scale(1.07 1)" font-size="8.5" fill="#364e5a" text-anchor="middle">接</text>
<text transform="translate(117.51 338.26) scale(1.07 1)" font-size="8.5" fill="#364e5a" text-anchor="middle">头</text>
<text x="134.72" y="289.06" font-size="9.2" fill="#2b5369" letter-spacing="0.1" text-anchor="middle">N</text>
<text transform="translate(134.82 319.16) scale(1.07 1)" font-size="8.5" fill="#364e5a" text-anchor="middle">塑</text>
<text transform="translate(134.82 328.71) scale(1.07 1)" font-size="8.5" fill="#364e5a" text-anchor="middle">管</text>
<text transform="translate(134.82 338.26) scale(1.07 1)" font-size="8.5" fill="#364e5a" text-anchor="middle">插</text>
<text transform="translate(134.82 347.81) scale(1.07 1)" font-size="8.5" fill="#364e5a" text-anchor="middle">接</text>
<text transform="translate(134.82 357.36) scale(1.07 1)" font-size="8.5" fill="#364e5a" text-anchor="middle">头</text>
<text x="152.04" y="289.06" font-size="9.2" fill="#2b5369" letter-spacing="0.1" text-anchor="middle">P</text>
<text transform="translate(152.14 319.16) scale(1.07 1)" font-size="8.5" fill="#364e5a" text-anchor="middle">塑</text>
<text transform="translate(152.14 328.71) scale(1.07 1)" font-size="8.5" fill="#364e5a" text-anchor="middle">管</text>
<text transform="translate(152.14 338.26) scale(1.07 1)" font-size="8.5" fill="#364e5a" text-anchor="middle">堵</text>
<text transform="translate(152.14 347.81) scale(1.07 1)" font-size="8.5" fill="#364e5a" text-anchor="middle">接</text>
<text transform="translate(152.14 357.36) scale(1.07 1)" font-size="8.5" fill="#364e5a" text-anchor="middle">头</text>
<text x="169.35" y="289.06" font-size="9.2" fill="#2b5369" letter-spacing="0.1" text-anchor="middle">R</text>
<text transform="translate(169.45 319.16) scale(1.07 1)" font-size="8.5" fill="#364e5a" text-anchor="middle">塑</text>
<text transform="translate(169.45 328.71) scale(1.07 1)" font-size="8.5" fill="#364e5a" text-anchor="middle">管</text>
<text transform="translate(169.45 338.26) scale(1.07 1)" font-size="8.5" fill="#364e5a" text-anchor="middle">变</text>
<text transform="translate(169.45 347.81) scale(1.07 1)" font-size="8.5" fill="#364e5a" text-anchor="middle">径</text>
<text transform="translate(169.45 357.36) scale(1.07 1)" font-size="8.5" fill="#364e5a" text-anchor="middle">接</text>
<text transform="translate(169.45 366.91) scale(1.07 1)" font-size="8.5" fill="#364e5a" text-anchor="middle">头</text>
<text x="186.66" y="289.06" font-size="9.2" fill="#2b5369" letter-spacing="0.1" text-anchor="middle">S</text>
<text transform="translate(186.76 319.16) scale(1.07 1)" font-size="8.5" fill="#364e5a" text-anchor="middle">内</text>
<text transform="translate(186.76 328.71) scale(1.07 1)" font-size="8.5" fill="#364e5a" text-anchor="middle">六</text>
<text transform="translate(186.76 338.26) scale(1.07 1)" font-size="8.5" fill="#364e5a" text-anchor="middle">角</text>
<text transform="translate(186.76 347.81) scale(1.07 1)" font-size="8.5" fill="#364e5a" text-anchor="middle">接</text>
<text transform="translate(186.76 357.36) scale(1.07 1)" font-size="8.5" fill="#364e5a" text-anchor="middle">头</text>
<text x="203.97" y="289.06" font-size="9.2" fill="#2b5369" letter-spacing="0.1" text-anchor="middle">T</text>
<text x="204.07" y="319.34" font-size="9.0" fill="#364e5a" text-anchor="middle">T</text>
<text transform="translate(204.07 328.71) scale(1.07 1)" font-size="8.5" fill="#364e5a" text-anchor="middle">型</text>
<text transform="translate(204.07 338.26) scale(1.07 1)" font-size="8.5" fill="#364e5a" text-anchor="middle">接</text>
<text transform="translate(204.07 347.81) scale(1.07 1)" font-size="8.5" fill="#364e5a" text-anchor="middle">头</text>
<text x="221.28" y="289.06" font-size="9.2" fill="#2b5369" letter-spacing="0.1" text-anchor="middle">U</text>
<text x="221.38" y="319.34" font-size="9.0" fill="#364e5a" text-anchor="middle">Y</text>
<text transform="translate(221.38 328.71) scale(1.07 1)" font-size="8.5" fill="#364e5a" text-anchor="middle">型</text>
<text transform="translate(221.38 338.26) scale(1.07 1)" font-size="8.5" fill="#364e5a" text-anchor="middle">接</text>
<text transform="translate(221.38 347.81) scale(1.07 1)" font-size="8.5" fill="#364e5a" text-anchor="middle">头</text>
<text x="238.59" y="289.06" font-size="9.2" fill="#2b5369" letter-spacing="0.1" text-anchor="middle">V</text>
<text transform="translate(238.69 319.16) scale(1.07 1)" font-size="8.5" fill="#364e5a" text-anchor="middle">单</text>
<text transform="translate(238.69 328.71) scale(1.07 1)" font-size="8.5" fill="#364e5a" text-anchor="middle">头</text>
<text transform="translate(238.69 338.26) scale(1.07 1)" font-size="8.5" fill="#364e5a" text-anchor="middle">接</text>
<text transform="translate(238.69 347.81) scale(1.07 1)" font-size="8.5" fill="#364e5a" text-anchor="middle">头</text>
<text x="255.90" y="289.06" font-size="9.2" fill="#2b5369" letter-spacing="0.1" text-anchor="middle">W</text>
<text transform="translate(256.00 319.16) scale(1.07 1)" font-size="8.5" fill="#364e5a" text-anchor="middle">加</text>
<text transform="translate(256.00 328.71) scale(1.07 1)" font-size="8.5" fill="#364e5a" text-anchor="middle">长</text>
<text transform="translate(256.00 338.26) scale(1.07 1)" font-size="8.5" fill="#364e5a" text-anchor="middle">弯</text>
<text transform="translate(256.00 347.81) scale(1.07 1)" font-size="8.5" fill="#364e5a" text-anchor="middle">接</text>
<text transform="translate(256.00 357.36) scale(1.07 1)" font-size="8.5" fill="#364e5a" text-anchor="middle">头</text>
<text x="273.22" y="289.06" font-size="9.2" fill="#2b5369" letter-spacing="0.1" text-anchor="middle">X</text>
<text x="273.32" y="319.34" font-size="9.0" fill="#364e5a" text-anchor="middle">Y</text>
<text transform="translate(273.32 328.71) scale(1.07 1)" font-size="8.5" fill="#364e5a" text-anchor="middle">型</text>
<text transform="translate(273.32 338.26) scale(1.07 1)" font-size="8.5" fill="#364e5a" text-anchor="middle">插</text>
<text transform="translate(273.32 347.81) scale(1.07 1)" font-size="8.5" fill="#364e5a" text-anchor="middle">入</text>
<text transform="translate(273.32 357.36) scale(1.07 1)" font-size="8.5" fill="#364e5a" text-anchor="middle">式</text>
<text transform="translate(273.32 366.91) scale(1.07 1)" font-size="8.5" fill="#364e5a" text-anchor="middle">接</text>
<text transform="translate(273.32 376.46) scale(1.07 1)" font-size="8.5" fill="#364e5a" text-anchor="middle">头</text>
<text x="290.53" y="289.06" font-size="9.2" fill="#2b5369" letter-spacing="0.1" text-anchor="middle">Y</text>
<text x="290.63" y="319.34" font-size="9.0" fill="#364e5a" text-anchor="middle">T</text>
<text transform="translate(290.63 328.71) scale(1.07 1)" font-size="8.5" fill="#364e5a" text-anchor="middle">型</text>
<text transform="translate(290.63 338.26) scale(1.07 1)" font-size="8.5" fill="#364e5a" text-anchor="middle">外</text>
<text transform="translate(290.63 347.81) scale(1.07 1)" font-size="8.5" fill="#364e5a" text-anchor="middle">螺</text>
<text transform="translate(290.63 357.36) scale(1.07 1)" font-size="8.5" fill="#364e5a" text-anchor="middle">接</text>
<text transform="translate(290.63 366.91) scale(1.07 1)" font-size="8.5" fill="#364e5a" text-anchor="middle">头</text>
<text x="307.84" y="289.06" font-size="9.2" fill="#2b5369" letter-spacing="0.1" text-anchor="middle">Z</text>
<text transform="translate(307.94 319.16) scale(1.07 1)" font-size="8.5" fill="#364e5a" text-anchor="middle">双</text>
<text transform="translate(307.94 328.71) scale(1.07 1)" font-size="8.5" fill="#364e5a" text-anchor="middle">头</text>
<text transform="translate(307.94 338.26) scale(1.07 1)" font-size="8.5" fill="#364e5a" text-anchor="middle">接</text>
<text transform="translate(307.94 347.81) scale(1.07 1)" font-size="8.5" fill="#364e5a" text-anchor="middle">头</text>
<text x="325.15" y="289.06" font-size="9.2" fill="#2b5369" letter-spacing="0.1" text-anchor="middle">LE</text>
<text transform="translate(325.25 319.16) scale(1.07 1)" font-size="8.5" fill="#364e5a" text-anchor="middle">隔</text>
<text transform="translate(325.25 328.71) scale(1.07 1)" font-size="8.5" fill="#364e5a" text-anchor="middle">板</text>
<text transform="translate(325.25 338.26) scale(1.07 1)" font-size="8.5" fill="#364e5a" text-anchor="middle">弯</text>
<text transform="translate(325.25 347.81) scale(1.07 1)" font-size="8.5" fill="#364e5a" text-anchor="middle">接</text>
<text transform="translate(325.25 357.36) scale(1.07 1)" font-size="8.5" fill="#364e5a" text-anchor="middle">头</text>
<text x="342.46" y="289.06" font-size="9.2" fill="#2b5369" letter-spacing="0.1" text-anchor="middle">LF</text>
<text transform="translate(342.56 319.16) scale(1.07 1)" font-size="8.5" fill="#364e5a" text-anchor="middle">内</text>
<text transform="translate(342.56 328.71) scale(1.07 1)" font-size="8.5" fill="#364e5a" text-anchor="middle">螺</text>
<text transform="translate(342.56 338.26) scale(1.07 1)" font-size="8.5" fill="#364e5a" text-anchor="middle">弯</text>
<text transform="translate(342.56 347.81) scale(1.07 1)" font-size="8.5" fill="#364e5a" text-anchor="middle">接</text>
<text transform="translate(342.56 357.36) scale(1.07 1)" font-size="8.5" fill="#364e5a" text-anchor="middle">头</text>
<text x="359.77" y="289.06" font-size="9.2" fill="#2b5369" letter-spacing="0.1" text-anchor="middle">LU</text>
<text transform="translate(359.87 319.16) scale(1.07 1)" font-size="8.5" fill="#364e5a" text-anchor="middle">偏</text>
<text transform="translate(359.87 328.71) scale(1.07 1)" font-size="8.5" fill="#364e5a" text-anchor="middle">三</text>
<text transform="translate(359.87 338.26) scale(1.07 1)" font-size="8.5" fill="#364e5a" text-anchor="middle">通</text>
<text transform="translate(359.87 347.81) scale(1.07 1)" font-size="8.5" fill="#364e5a" text-anchor="middle">接</text>
<text transform="translate(359.87 357.36) scale(1.07 1)" font-size="8.5" fill="#364e5a" text-anchor="middle">头</text>
<text x="377.08" y="289.06" font-size="9.2" fill="#2b5369" letter-spacing="0.1" text-anchor="middle">VD</text>
<text transform="translate(377.18 319.16) scale(1.07 1)" font-size="8.5" fill="#364e5a" text-anchor="middle">单</text>
<text transform="translate(377.18 328.71) scale(1.07 1)" font-size="8.5" fill="#364e5a" text-anchor="middle">头</text>
<text transform="translate(377.18 338.26) scale(1.07 1)" font-size="8.5" fill="#364e5a" text-anchor="middle">两</text>
<text transform="translate(377.18 347.81) scale(1.07 1)" font-size="8.5" fill="#364e5a" text-anchor="middle">组</text>
<text transform="translate(377.18 357.36) scale(1.07 1)" font-size="8.5" fill="#364e5a" text-anchor="middle">接</text>
<text transform="translate(377.18 366.91) scale(1.07 1)" font-size="8.5" fill="#364e5a" text-anchor="middle">头</text>
<text x="394.40" y="289.06" font-size="9.2" fill="#2b5369" letter-spacing="0.1" text-anchor="middle">VF</text>
<text transform="translate(394.50 319.16) scale(1.07 1)" font-size="8.5" fill="#364e5a" text-anchor="middle">单</text>
<text transform="translate(394.50 328.71) scale(1.07 1)" font-size="8.5" fill="#364e5a" text-anchor="middle">头</text>
<text transform="translate(394.50 338.26) scale(1.07 1)" font-size="8.5" fill="#364e5a" text-anchor="middle">内</text>
<text transform="translate(394.50 347.81) scale(1.07 1)" font-size="8.5" fill="#364e5a" text-anchor="middle">螺</text>
<text transform="translate(394.50 357.36) scale(1.07 1)" font-size="8.5" fill="#364e5a" text-anchor="middle">接</text>
<text transform="translate(394.50 366.91) scale(1.07 1)" font-size="8.5" fill="#364e5a" text-anchor="middle">头</text>
<text x="411.71" y="289.06" font-size="9.2" fill="#2b5369" letter-spacing="0.1" text-anchor="middle">VS</text>
<text transform="translate(411.81 319.16) scale(1.07 1)" font-size="8.5" fill="#364e5a" text-anchor="middle">单</text>
<text transform="translate(411.81 328.71) scale(1.07 1)" font-size="8.5" fill="#364e5a" text-anchor="middle">头</text>
<text transform="translate(411.81 338.26) scale(1.07 1)" font-size="8.5" fill="#364e5a" text-anchor="middle">内</text>
<text transform="translate(411.81 347.81) scale(1.07 1)" font-size="8.5" fill="#364e5a" text-anchor="middle">六</text>
<text transform="translate(411.81 357.36) scale(1.07 1)" font-size="8.5" fill="#364e5a" text-anchor="middle">角</text>
<text transform="translate(411.81 366.91) scale(1.07 1)" font-size="8.5" fill="#364e5a" text-anchor="middle">接</text>
<text transform="translate(411.81 376.46) scale(1.07 1)" font-size="8.5" fill="#364e5a" text-anchor="middle">头</text>
<text x="429.02" y="289.06" font-size="9.2" fill="#2b5369" letter-spacing="0.1" text-anchor="middle">VT</text>
<text transform="translate(429.12 319.16) scale(1.07 1)" font-size="8.5" fill="#364e5a" text-anchor="middle">单</text>
<text transform="translate(429.12 328.71) scale(1.07 1)" font-size="8.5" fill="#364e5a" text-anchor="middle">头</text>
<text transform="translate(429.12 338.26) scale(1.07 1)" font-size="8.5" fill="#364e5a" text-anchor="middle">三</text>
<text transform="translate(429.12 347.81) scale(1.07 1)" font-size="8.5" fill="#364e5a" text-anchor="middle">排</text>
<text transform="translate(429.12 357.36) scale(1.07 1)" font-size="8.5" fill="#364e5a" text-anchor="middle">接</text>
<text transform="translate(429.12 366.91) scale(1.07 1)" font-size="8.5" fill="#364e5a" text-anchor="middle">头</text>
<text x="446.33" y="289.06" font-size="9.2" fill="#2b5369" letter-spacing="0.1" text-anchor="middle">TW</text>
<text transform="translate(446.43 319.16) scale(1.07 1)" font-size="8.5" fill="#364e5a" text-anchor="middle">十</text>
<text transform="translate(446.43 328.71) scale(1.07 1)" font-size="8.5" fill="#364e5a" text-anchor="middle">字</text>
<text transform="translate(446.43 338.26) scale(1.07 1)" font-size="8.5" fill="#364e5a" text-anchor="middle">等</text>
<text transform="translate(446.43 347.81) scale(1.07 1)" font-size="8.5" fill="#364e5a" text-anchor="middle">径</text>
<text transform="translate(446.43 357.36) scale(1.07 1)" font-size="8.5" fill="#364e5a" text-anchor="middle">接</text>
<text transform="translate(446.43 366.91) scale(1.07 1)" font-size="8.5" fill="#364e5a" text-anchor="middle">头</text>
<text x="463.64" y="289.06" font-size="9.2" fill="#2b5369" letter-spacing="0.1" text-anchor="middle">TX</text>
<text transform="translate(463.74 319.16) scale(1.07 1)" font-size="8.5" fill="#364e5a" text-anchor="middle">十</text>
<text transform="translate(463.74 328.71) scale(1.07 1)" font-size="8.5" fill="#364e5a" text-anchor="middle">字</text>
<text transform="translate(463.74 338.26) scale(1.07 1)" font-size="8.5" fill="#364e5a" text-anchor="middle">变</text>
<text x="463.74" y="347.99" font-size="9.0" fill="#364e5a" text-anchor="middle">1</text>
<text transform="translate(463.74 357.36) scale(1.07 1)" font-size="8.5" fill="#364e5a" text-anchor="middle">接</text>
<text transform="translate(463.74 366.91) scale(1.07 1)" font-size="8.5" fill="#364e5a" text-anchor="middle">头</text>
<text x="480.95" y="289.06" font-size="9.2" fill="#2b5369" letter-spacing="0.1" text-anchor="middle">TY</text>
<text transform="translate(481.05 319.16) scale(1.07 1)" font-size="8.5" fill="#364e5a" text-anchor="middle">十</text>
<text transform="translate(481.05 328.71) scale(1.07 1)" font-size="8.5" fill="#364e5a" text-anchor="middle">字</text>
<text transform="translate(481.05 338.26) scale(1.07 1)" font-size="8.5" fill="#364e5a" text-anchor="middle">变</text>
<text x="481.05" y="347.99" font-size="9.0" fill="#364e5a" text-anchor="middle">2</text>
<text transform="translate(481.05 357.36) scale(1.07 1)" font-size="8.5" fill="#364e5a" text-anchor="middle">接</text>
<text transform="translate(481.05 366.91) scale(1.07 1)" font-size="8.5" fill="#364e5a" text-anchor="middle">头</text>
<text x="498.26" y="289.06" font-size="9.2" fill="#2b5369" letter-spacing="0.1" text-anchor="middle">TZ</text>
<text transform="translate(498.36 319.16) scale(1.07 1)" font-size="8.5" fill="#364e5a" text-anchor="middle">十</text>
<text transform="translate(498.36 328.71) scale(1.07 1)" font-size="8.5" fill="#364e5a" text-anchor="middle">字</text>
<text transform="translate(498.36 338.26) scale(1.07 1)" font-size="8.5" fill="#364e5a" text-anchor="middle">变</text>
<text x="498.36" y="347.99" font-size="9.0" fill="#364e5a" text-anchor="middle">3</text>
<text transform="translate(498.36 357.36) scale(1.07 1)" font-size="8.5" fill="#364e5a" text-anchor="middle">接</text>
<text transform="translate(498.36 366.91) scale(1.07 1)" font-size="8.5" fill="#364e5a" text-anchor="middle">头</text>
<text x="515.58" y="289.06" font-size="9.2" fill="#2b5369" letter-spacing="0.1" text-anchor="middle">UD</text>
<text transform="translate(515.68 319.16) scale(1.07 1)" font-size="8.5" fill="#364e5a" text-anchor="middle">五</text>
<text transform="translate(515.68 328.71) scale(1.07 1)" font-size="8.5" fill="#364e5a" text-anchor="middle">通</text>
<text transform="translate(515.68 338.26) scale(1.07 1)" font-size="8.5" fill="#364e5a" text-anchor="middle">接</text>
<text transform="translate(515.68 347.81) scale(1.07 1)" font-size="8.5" fill="#364e5a" text-anchor="middle">头</text>
<text x="532.89" y="289.06" font-size="9.2" fill="#2b5369" letter-spacing="0.1" text-anchor="middle">ZD</text>
<text transform="translate(532.99 319.16) scale(1.07 1)" font-size="8.5" fill="#364e5a" text-anchor="middle">双</text>
<text transform="translate(532.99 328.71) scale(1.07 1)" font-size="8.5" fill="#364e5a" text-anchor="middle">头</text>
<text transform="translate(532.99 338.26) scale(1.07 1)" font-size="8.5" fill="#364e5a" text-anchor="middle">外</text>
<text transform="translate(532.99 347.81) scale(1.07 1)" font-size="8.5" fill="#364e5a" text-anchor="middle">螺</text>
<text transform="translate(532.99 357.36) scale(1.07 1)" font-size="8.5" fill="#364e5a" text-anchor="middle">接</text>
<text transform="translate(532.99 366.91) scale(1.07 1)" font-size="8.5" fill="#364e5a" text-anchor="middle">头</text>
<text x="550.20" y="289.06" font-size="9.2" fill="#2b5369" letter-spacing="0.1" text-anchor="middle">ZF</text>
<text transform="translate(550.30 319.16) scale(1.07 1)" font-size="8.5" fill="#364e5a" text-anchor="middle">双</text>
<text transform="translate(550.30 328.71) scale(1.07 1)" font-size="8.5" fill="#364e5a" text-anchor="middle">头</text>
<text transform="translate(550.30 338.26) scale(1.07 1)" font-size="8.5" fill="#364e5a" text-anchor="middle">内</text>
<text transform="translate(550.30 347.81) scale(1.07 1)" font-size="8.5" fill="#364e5a" text-anchor="middle">螺</text>
<text transform="translate(550.30 357.36) scale(1.07 1)" font-size="8.5" fill="#364e5a" text-anchor="middle">接</text>
<text transform="translate(550.30 366.91) scale(1.07 1)" font-size="8.5" fill="#364e5a" text-anchor="middle">头</text>
<text x="567.51" y="289.06" font-size="9.2" fill="#2b5369" letter-spacing="0.1" text-anchor="middle">ZT</text>
<text transform="translate(567.61 319.16) scale(1.07 1)" font-size="8.5" fill="#364e5a" text-anchor="middle">双</text>
<text transform="translate(567.61 328.71) scale(1.07 1)" font-size="8.5" fill="#364e5a" text-anchor="middle">头</text>
<text transform="translate(567.61 338.26) scale(1.07 1)" font-size="8.5" fill="#364e5a" text-anchor="middle">三</text>
<text transform="translate(567.61 347.81) scale(1.07 1)" font-size="8.5" fill="#364e5a" text-anchor="middle">排</text>
<text transform="translate(567.61 357.36) scale(1.07 1)" font-size="8.5" fill="#364e5a" text-anchor="middle">接</text>
<text transform="translate(567.61 366.91) scale(1.07 1)" font-size="8.5" fill="#364e5a" text-anchor="middle">头</text>
<text x="584.82" y="289.06" font-size="9.2" fill="#2b5369" letter-spacing="0.1" text-anchor="middle">XD</text>
<text transform="translate(584.92 319.16) scale(1.07 1)" font-size="8.5" fill="#364e5a" text-anchor="middle">五</text>
<text transform="translate(584.92 328.71) scale(1.07 1)" font-size="8.5" fill="#364e5a" text-anchor="middle">通</text>
<text transform="translate(584.92 338.26) scale(1.07 1)" font-size="8.5" fill="#364e5a" text-anchor="middle">管</text>
<text transform="translate(584.92 347.81) scale(1.07 1)" font-size="8.5" fill="#364e5a" text-anchor="middle">插</text>
<text transform="translate(584.92 357.36) scale(1.07 1)" font-size="8.5" fill="#364e5a" text-anchor="middle">接</text>
<text transform="translate(584.92 366.91) scale(1.07 1)" font-size="8.5" fill="#364e5a" text-anchor="middle">头</text>
<text x="602.13" y="289.06" font-size="9.2" fill="#2b5369" letter-spacing="0.1" text-anchor="middle">00</text>
<text transform="translate(602.23 319.16) scale(1.07 1)" font-size="8.5" fill="#364e5a" text-anchor="middle">等</text>
<text transform="translate(602.23 328.71) scale(1.07 1)" font-size="8.5" fill="#364e5a" text-anchor="middle">径</text>
<text transform="translate(602.23 338.26) scale(1.07 1)" font-size="8.5" fill="#364e5a" text-anchor="middle">接</text>
<text transform="translate(602.23 347.81) scale(1.07 1)" font-size="8.5" fill="#364e5a" text-anchor="middle">头</text>
<text x="619.44" y="289.06" font-size="9.2" fill="#2b5369" letter-spacing="0.1" text-anchor="middle">99</text>
<text transform="translate(619.54 319.16) scale(1.07 1)" font-size="8.5" fill="#364e5a" text-anchor="middle">插</text>
<text transform="translate(619.54 328.71) scale(1.07 1)" font-size="8.5" fill="#364e5a" text-anchor="middle">管</text>
<text transform="translate(619.54 338.26) scale(1.07 1)" font-size="8.5" fill="#364e5a" text-anchor="middle">等</text>
<text transform="translate(619.54 347.81) scale(1.07 1)" font-size="8.5" fill="#364e5a" text-anchor="middle">径</text>
<text transform="translate(619.54 357.36) scale(1.07 1)" font-size="8.5" fill="#364e5a" text-anchor="middle">接</text>
<text transform="translate(619.54 366.91) scale(1.07 1)" font-size="8.5" fill="#364e5a" text-anchor="middle">头</text>
<text x="602.90" y="268.68" font-size="8.0" fill="#3b3b3b">（</text>
<text x="614.40" y="268.75" font-size="8.2" fill="#3b3b3b">表</text>
<text x="625.60" y="268.68" font-size="8.0" fill="#3b3b3b">）</text>
</svg>
</body></html>
